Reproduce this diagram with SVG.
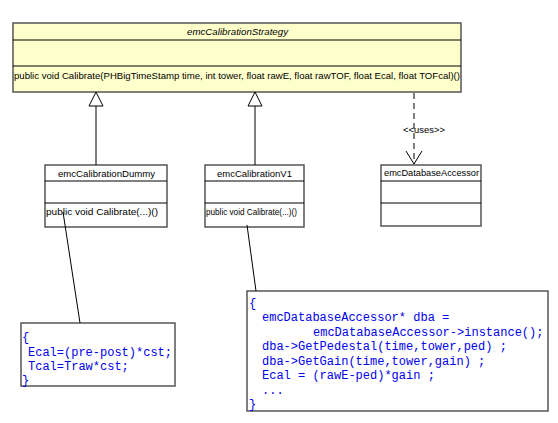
<svg xmlns="http://www.w3.org/2000/svg" width="558" height="423" viewBox="0 0 558 423">
<style>
.bg{fill:#ffffff}
.box{stroke:#555;stroke-width:1.5}
.sep{stroke:#000;stroke-width:1}
.uml{font-family:"Liberation Sans",Arial,sans-serif;font-size:9px;fill:#000}
.code{font-family:"Liberation Mono","Courier New",monospace;font-size:12px;fill:#0000ee;white-space:pre}
.ln{stroke:#000;stroke-width:1;fill:none}
</style>
<rect x="0" y="0" width="558" height="423" fill="#fff"/>
<g id="emcCalibrationStrategy">
<rect class="box" x="13" y="23" width="448" height="69" fill="#ffffcc"/>
<line class="sep" x1="13" y1="40" x2="461" y2="40"/>
<line class="sep" x1="13" y1="66" x2="461" y2="66"/>
<text class="uml" x="237.5" y="35" text-anchor="middle" font-style="italic" textLength="101" lengthAdjust="spacingAndGlyphs">emcCalibrationStrategy</text>
<text class="uml" x="14" y="79" textLength="446" lengthAdjust="spacingAndGlyphs">public void Calibrate(PHBigTimeStamp time, int tower, float rawE, float rawTOF, float Ecal, float TOFcal)()</text>
</g>
<g id="emcCalibrationDummy">
<rect class="box" x="45" y="165" width="122" height="62" fill="#fff"/>
<line class="sep" x1="45" y1="181" x2="167" y2="181"/>
<line class="sep" x1="45" y1="203" x2="167" y2="203"/>
<text class="uml" x="106.5" y="177" text-anchor="middle" textLength="97" lengthAdjust="spacingAndGlyphs">emcCalibrationDummy</text>
<text class="uml" x="46" y="215" textLength="112" lengthAdjust="spacingAndGlyphs">public void Calibrate(...)()</text>
</g>
<g id="emcCalibrationV1">
<rect class="box" x="205" y="165" width="99" height="62" fill="#fff"/>
<line class="sep" x1="205" y1="181" x2="304" y2="181"/>
<line class="sep" x1="205" y1="203" x2="304" y2="203"/>
<text class="uml" x="254.5" y="177" text-anchor="middle" textLength="75" lengthAdjust="spacingAndGlyphs">emcCalibrationV1</text>
<text class="uml" x="206" y="215" textLength="91" lengthAdjust="spacingAndGlyphs">public void Calibrate(...)()</text>
</g>
<g id="emcDatabaseAccessor">
<rect class="box" x="381" y="165" width="100" height="61" fill="#fff"/>
<line class="sep" x1="381" y1="181" x2="481" y2="181"/>
<line class="sep" x1="381" y1="203" x2="481" y2="203"/>
<text class="uml" x="384" y="176" textLength="95" lengthAdjust="spacingAndGlyphs">emcDatabaseAccessor</text>
</g>
<g id="note1">
<rect class="box" x="21" y="323" width="154" height="63" fill="#fff"/>
<text class="code" x="22" y="341">{</text>
<text class="code" x="28" y="355.5">Ecal=(pre-post)*cst;</text>
<text class="code" x="28" y="370">Tcal=Traw*cst;</text>
<text class="code" x="22" y="384">}</text>
</g>
<g id="note2">
<rect class="box" x="247" y="291" width="301" height="120" fill="#fff"/>
<text class="code" x="249" y="306.5">{</text>
<text class="code" x="262" y="321">emcDatabaseAccessor* dba =</text>
<text class="code" x="313" y="335.5">emcDatabaseAccessor-&gt;instance();</text>
<text class="code" x="262" y="350">dba-&gt;GetPedestal(time,tower,ped) ;</text>
<text class="code" x="262" y="364.5">dba-&gt;GetGain(time,tower,gain) ;</text>
<text class="code" x="262" y="379">Ecal = (rawE-ped)*gain ;</text>
<text class="code" x="262" y="393.5">...</text>
<text class="code" x="249" y="408">}</text>
</g>
<g id="connectors">
<line class="ln" x1="96" y1="106" x2="96" y2="165"/>
<polygon points="96,92 89,106 103,106" fill="#fff" stroke="#000" stroke-width="1"/>
<line class="ln" x1="255" y1="106" x2="255" y2="165"/>
<polygon points="255,92 248,106 262,106" fill="#fff" stroke="#000" stroke-width="1"/>
<line class="ln" x1="414" y1="93" x2="414" y2="164" stroke-dasharray="6,4"/>
<polyline class="ln" points="406,151 414,164 422,151"/>
<text class="uml" x="424" y="133" text-anchor="middle" textLength="42" lengthAdjust="spacingAndGlyphs">&lt;&lt;uses&gt;&gt;</text>
<line class="ln" x1="63" y1="212" x2="80" y2="323"/>
<line class="ln" x1="247" y1="225" x2="256" y2="291"/>
</g>
</svg>
